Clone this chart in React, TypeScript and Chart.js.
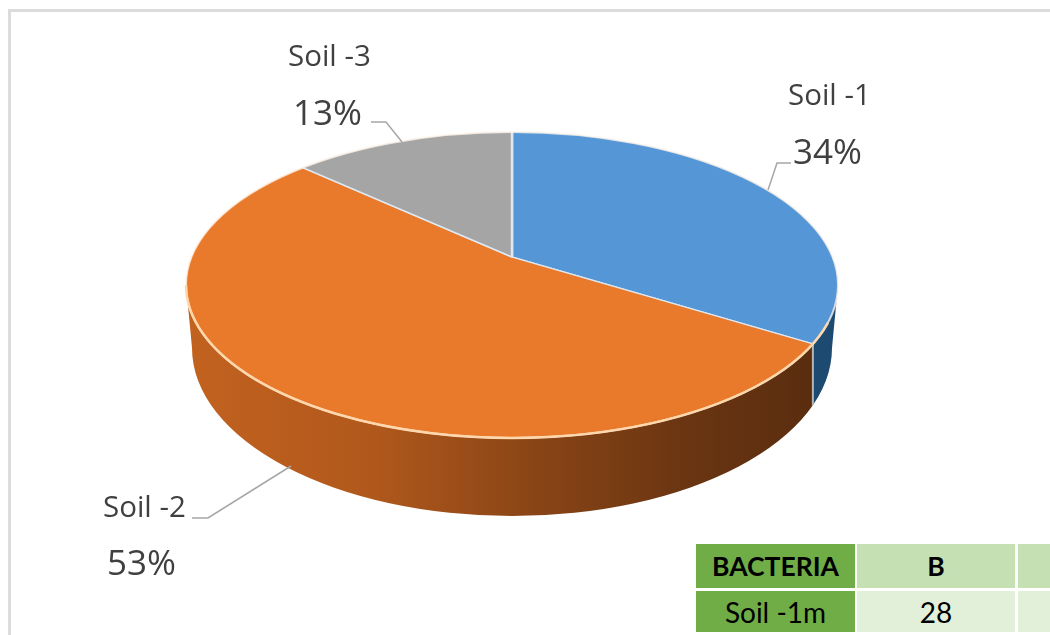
import React, { useEffect, useRef } from "react";
import { Chart, registerables } from "chart.js";

Chart.register(...registerables);

const categories = ["Soil -1", "Soil -2", "Soil -3"];
const shares = [34, 53, 13];
const topColors = ["#5596d6", "#e97a2c", "#a5a5a5"];
const tableHeader = ["BACTERIA", "B", ""];
const tableRow = ["Soil -1m", "28", ""];

const WIDTH = 1050;
const HEIGHT = 635;
const APEX = { x: 512, y: 257 };
const TILT = 0.455;
const ZOOM = 1.4;
const TOP = { x: 512, y: 285, rx: 326, ry: 153 };
const BASE = { x: 512, y: 348, rx: 320, ry: 168 };
const LABELS = [
  { nameX: 788, nameY: 105, pctX: 793, pctY: 164, leader: [[768, 190], [777, 163], [791, 163]] },
  { nameX: 103, nameY: 517, pctX: 107, pctY: 575, leader: [[192, 518], [208, 518], [291, 466]] },
  { nameX: 288, nameY: 66, pctX: 293, pctY: 125, leader: [[371, 122], [386, 122], [402, 142]] },
];

const ellipsePath = (ctx: CanvasRenderingContext2D, e: typeof TOP) => {
  ctx.beginPath();
  ctx.ellipse(e.x, e.y, e.rx, e.ry, 0, 0, Math.PI * 2);
};

// Where the ray from the apex at a wedge's angle meets the rim of the top face.
const rimX = (angle: number) => {
  const dx = Math.cos(angle);
  const dy = TILT * Math.sin(angle);
  const ox = APEX.x - TOP.x;
  const oy = APEX.y - TOP.y;
  const a = (dx * dx) / (TOP.rx * TOP.rx) + (dy * dy) / (TOP.ry * TOP.ry);
  const b = 2 * ((ox * dx) / (TOP.rx * TOP.rx) + (oy * dy) / (TOP.ry * TOP.ry));
  const c = (ox * ox) / (TOP.rx * TOP.rx) + (oy * oy) / (TOP.ry * TOP.ry) - 1;
  const t = (-b + Math.sqrt(b * b - 4 * a * c)) / (2 * a);
  return APEX.x + t * dx;
};

const pie3d = {
  id: "pie3d",
  beforeDatasetsDraw(chart: any) {
    const ctx: CanvasRenderingContext2D = chart.ctx;
    const arcs = chart.getDatasetMeta(0).data;
    const seamX = rimX(arcs[0].endAngle);

    // Side wall: everything between the top rim and the lower rim.
    ctx.save();
    ctx.beginPath();
    ctx.ellipse(BASE.x, BASE.y, BASE.rx, BASE.ry, 0, 0, Math.PI);
    ctx.lineTo(TOP.x - TOP.rx, TOP.y);
    ctx.lineTo(TOP.x + TOP.rx, TOP.y);
    ctx.closePath();
    ctx.clip();
    const brown = ctx.createLinearGradient(TOP.x - TOP.rx, 0, seamX, 0);
    brown.addColorStop(0, "#c2621f");
    brown.addColorStop(0.3, "#b0581c");
    brown.addColorStop(0.55, "#8a4516");
    brown.addColorStop(0.8, "#6a3512");
    brown.addColorStop(1, "#5a2d0f");
    ctx.fillStyle = brown;
    ctx.fillRect(TOP.x - TOP.rx, TOP.y, seamX - TOP.x + TOP.rx, 300);
    ctx.fillStyle = "#1c4a70";
    ctx.fillRect(seamX, TOP.y, TOP.x + TOP.rx - seamX, 300);
    ctx.strokeStyle = "#b9b4ae";
    ctx.lineWidth = 2;
    ctx.beginPath();
    ctx.moveTo(seamX, TOP.y);
    ctx.lineTo(seamX, TOP.y + 150);
    ctx.stroke();
    ctx.restore();

    // Top face: the library's arcs, tilted about the apex and cut to the rim.
    const { x, y } = arcs[0];
    ctx.save();
    ellipsePath(ctx, TOP);
    ctx.clip();
    ctx.translate(APEX.x, APEX.y);
    ctx.scale(ZOOM, ZOOM * TILT);
    ctx.translate(-x, -y);
  },
  afterDatasetsDraw(chart: any) {
    const ctx: CanvasRenderingContext2D = chart.ctx;
    ctx.restore();

    ellipsePath(ctx, TOP);
    ctx.strokeStyle = "rgba(255,245,235,0.8)";
    ctx.lineWidth = 2;
    ctx.stroke();
    ctx.beginPath();
    ctx.ellipse(TOP.x, TOP.y, TOP.rx, TOP.ry, 0, 0.25, Math.PI);
    ctx.strokeStyle = "#ffd7ad";
    ctx.lineWidth = 2.5;
    ctx.stroke();

    ctx.fillStyle = "#404040";
    ctx.textBaseline = "alphabetic";
    ctx.textAlign = "left";
    LABELS.forEach((l, i) => {
      ctx.strokeStyle = "#a6a6a6";
      ctx.lineWidth = 1.5;
      ctx.beginPath();
      l.leader.forEach(([px, py], k) => (k ? ctx.lineTo(px, py) : ctx.moveTo(px, py)));
      ctx.stroke();
      ctx.font = '29.5px "Open Sans"';
      ctx.fillText(categories[i], l.nameX, l.nameY);
      ctx.font = '35px "Open Sans"';
      ctx.fillText(`${shares[i]}%`, l.pctX, l.pctY);
    });
  },
};

const cell = (
  left: number,
  top: number,
  width: number,
  height: number,
  background: string,
  bold: boolean,
  text: string,
) => (
  <div
    key={`${left}-${top}`}
    style={{
      position: "absolute",
      left,
      top,
      width,
      height,
      background,
      display: "flex",
      alignItems: "center",
      justifyContent: "center",
      font: bold ? "700 26.5px Lato, sans-serif" : "400 28px Lato, sans-serif",
      color: "#000",
    }}
  >
    {text}
  </div>
);

export default function App() {
  const ref = useRef<HTMLCanvasElement>(null);

  useEffect(() => {
    const chart = new Chart(ref.current!, {
      type: "pie",
      data: {
        labels: categories,
        datasets: [
          {
            data: shares,
            backgroundColor: topColors,
            borderColor: "#dce8f2",
            borderWidth: 1.8,
            clip: false,
          } as any,
        ],
      },
      options: {
        responsive: false,
        animation: false,
        plugins: { legend: { display: false }, tooltip: { enabled: false } },
      },
      plugins: [pie3d],
    });
    return () => chart.destroy();
  }, []);

  return (
    <div
      style={{
        position: "fixed",
        left: 0,
        top: 0,
        width: WIDTH,
        height: HEIGHT,
        overflow: "hidden",
        background: "#fff",
      }}
    >
      <div
        style={{
          position: "absolute",
          left: 8,
          top: 9,
          width: WIDTH,
          height: HEIGHT,
          borderLeft: "3px solid #dcdcdc",
          borderTop: "3px solid #dcdcdc",
        }}
      />
      <canvas
        ref={ref}
        width={WIDTH}
        height={HEIGHT}
        style={{
          position: "absolute",
          left: 0,
          top: 0,
          width: WIDTH,
          height: HEIGHT,
          filter: "blur(0.6px)",
        }}
      />
      {cell(696, 544, 159, 44, "#70ad47", true, tableHeader[0])}
      {cell(857, 544, 158, 44, "#c5e0b3", true, tableHeader[1])}
      {cell(1018, 544, 60, 44, "#c5e0b3", true, tableHeader[2])}
      {cell(696, 591, 159, 41, "#70ad47", false, tableRow[0])}
      {cell(857, 591, 158, 41, "#e2efd9", false, tableRow[1])}
      {cell(1018, 591, 60, 41, "#e2efd9", false, tableRow[2])}
    </div>
  );
}
